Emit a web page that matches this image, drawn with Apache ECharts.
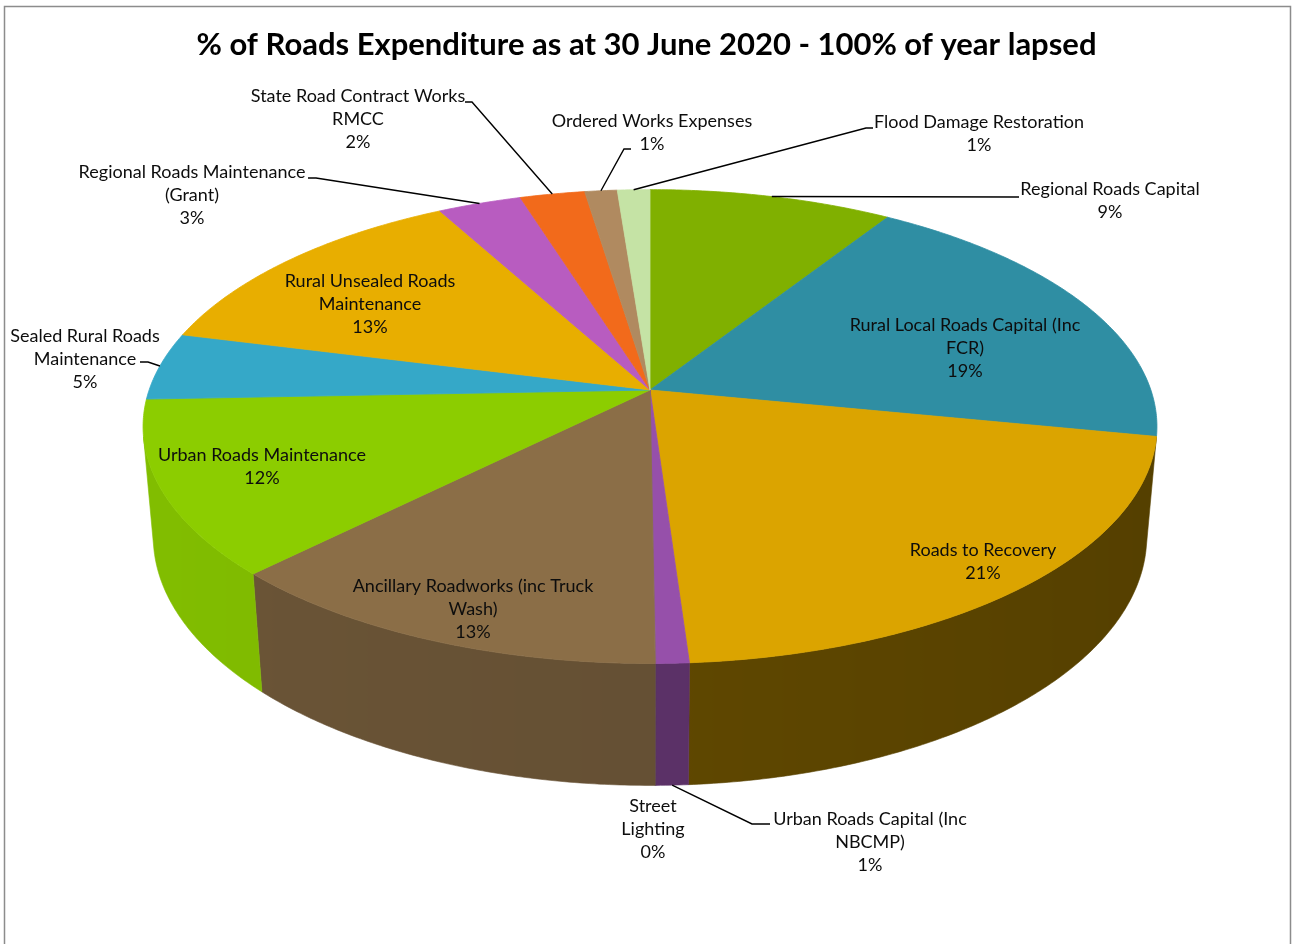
<!DOCTYPE html>
<html>
<head>
<meta charset="utf-8">
<title>% of Roads Expenditure as at 30 June 2020</title>
<script src="https://cdn.jsdelivr.net/npm/echarts@6/dist/echarts.min.js"></script>
<style>
  html, body { margin: 0; padding: 0; background: #ffffff; }
  #chart { width: 1293px; height: 944px; }
</style>
</head>
<body>
<div id="chart"></div>
<script>
// ---- data -----------------------------------------------------------------
const chartTitle = '% of Roads Expenditure as at 30 June 2020 - 100% of year lapsed';

const categories = [
  'Regional Roads Capital',
  'Rural Local Roads Capital (Inc\nFCR)',
  'Roads to Recovery',
  'Urban Roads Capital (Inc\nNBCMP)',
  'Street\nLighting',
  'Ancillary Roadworks (inc Truck\nWash)',
  'Urban Roads Maintenance',
  'Sealed Rural Roads\nMaintenance',
  'Rural Unsealed Roads\nMaintenance',
  'Regional Roads Maintenance\n(Grant)',
  'State Road Contract Works\nRMCC',
  'Ordered Works Expenses',
  'Flood Damage Restoration'
];

// share of expenditure, percent
const shares = [9.0, 19.1, 20.8, 0.9, 0.02, 12.6, 11.9, 4.6, 13.1, 3.1, 2.4, 1.2, 1.2];

const sliceColors = [
  '#80b000', '#2f8ea3', '#dba400', '#9650aa', '#8a5a96', '#8b6e47', '#8ccd00',
  '#35a8c8', '#e8ae00', '#b85cc0', '#f26a1b', '#b08a60', '#c5e3a5'
];

// ---- layout ---------------------------------------------------------------
// tilted disc seen in perspective; angles run clockwise from the far side
const VIEW = { cx: 650, cy: 390, focal: 2880, dist: 5.75, tilt: 27.5, depth: 0.25 };

// label block centres; leader = [elbow, attach] points, from = rim used by the line
const labelLayout = [
  { at: [1110, 201], leader: [[1014, 197], [1019, 197]], from: 'top' },
  { at: [965, 348] },
  { at: [983, 562] },
  { at: [870, 842], leader: [[752, 824], [770, 824]], from: 'bottom' },
  { at: [653, 829] },
  { at: [473, 609] },
  { at: [262, 467] },
  { at: [85, 359], leader: [[148, 362], [140, 362]], from: 'top' },
  { at: [370, 304] },
  { at: [192, 195], leader: [[316, 178], [308, 178]], from: 'top' },
  { at: [358, 119], leader: [[472, 102], [465, 102]], from: 'top' },
  { at: [652, 133], leader: [[624, 149], [631, 149]], from: 'top' },
  { at: [979, 134], leader: [[866, 128], [873, 128]], from: 'top' }
];

const FONT = 'Lato, "Open Sans", sans-serif';

// ---- geometry -------------------------------------------------------------
const total = shares.reduce((a, b) => a + b, 0);
const startDeg = [];
let acc = 0;
shares.forEach(v => { startDeg.push(acc / total * 360); acc += v; });

const rad = Math.PI / 180;
const cosT = Math.cos(VIEW.tilt * rad), sinT = Math.sin(VIEW.tilt * rad);

function project(phiDeg, height) {
  const X = Math.sin(phiDeg * rad), Z = Math.cos(phiDeg * rad);
  const yc = height * cosT + Z * sinT;
  const zc = VIEW.dist + Z * cosT - height * sinT;
  return [VIEW.cx + VIEW.focal * X / zc, VIEW.cy - VIEW.focal * yc / zc];
}

// the outer wall faces the viewer where cos(phi) < -1 / (dist * cos(tilt))
const wallLimit = Math.acos(-1 / (VIEW.dist * cosT)) / rad;
const wallRange = [wallLimit, 360 - wallLimit];

function arcSamples(a0, a1) {
  const n = Math.max(2, Math.ceil((a1 - a0) / 0.5) + 1);
  const out = [];
  for (let k = 0; k < n; k++) out.push(a0 + (a1 - a0) * k / (n - 1));
  return out;
}

// light comes from the left: walls turned to the right are darker
function shadeOf(phiDeg) {
  const s = 0.62 - 0.33 * Math.sin(phiDeg * rad);
  return Math.max(0.3, Math.min(1, s));
}

function scaleColor(hex, f) {
  const c = echarts.color.parse(hex);
  return 'rgb(' + [0, 1, 2].map(k => Math.round(c[k] * f)).join(',') + ')';
}

function sliceSpan(i, value) {
  const a0 = startDeg[i];
  return [a0, a0 + value / total * 360];
}

// ---- renderers ------------------------------------------------------------
function renderWall(params, api) {
  const i = params.dataIndex;
  const [a0, a1] = sliceSpan(i, api.value(0));
  const lo = Math.max(a0, wallRange[0]), hi = Math.min(a1, wallRange[1]);
  if (hi <= lo) return null;
  const angles = arcSamples(lo, hi);
  const topRim = angles.map(a => project(a, 0));
  const botRim = angles.map(a => project(a, -VIEW.depth));
  const points = topRim.concat(botRim.slice().reverse());
  const mid = (a0 + a1) / 2;
  const xs = topRim.map(p => p[0]);
  const minX = Math.min.apply(null, xs), maxX = Math.max.apply(null, xs);
  const span = Math.max(1, maxX - minX);
  // mostly flat per-slice shade with a faint left-to-right falloff
  const stops = angles.map((a, k) => ({
    offset: (xs[k] - minX) / span,
    color: scaleColor(sliceColors[i], 0.85 * shadeOf(mid) + 0.15 * shadeOf(a))
  })).sort((p, q) => p.offset - q.offset);
  const fill = new echarts.graphic.LinearGradient(minX, 0, maxX, 0, stops, true);
  return {
    type: 'polygon',
    shape: { points: points },
    style: { fill: fill, stroke: scaleColor(sliceColors[i], shadeOf(mid)), lineWidth: 0.6 }
  };
}

function renderTop(params, api) {
  const i = params.dataIndex;
  const [a0, a1] = sliceSpan(i, api.value(0));
  const points = [[VIEW.cx, VIEW.cy]].concat(arcSamples(a0, a1).map(a => project(a, 0)));
  return {
    type: 'polygon',
    shape: { points: points },
    style: { fill: sliceColors[i], stroke: sliceColors[i], lineWidth: 0.8 }
  };
}

function renderLabel(params, api) {
  const i = params.dataIndex;
  const v = api.value(0);
  const [a0, a1] = sliceSpan(i, v);
  const lay = labelLayout[i];
  const pct = Math.round(v / total * 100);
  const children = [{
    type: 'text',
    style: {
      text: categories[i] + '\n' + pct + '%',
      x: lay.at[0], y: lay.at[1],
      align: 'center', verticalAlign: 'middle',
      font: '18px ' + FONT, lineHeight: 23,
      fill: '#0d0d0d'
    }
  }];
  if (lay.leader) {
    const mid = (a0 + a1) / 2;
    const rim = project(mid, lay.from === 'bottom' ? -VIEW.depth : 0);
    children.push({
      type: 'polyline',
      shape: { points: [rim, lay.leader[0], lay.leader[1]] },
      style: { stroke: '#000000', lineWidth: 1.4, fill: null }
    });
  }
  return { type: 'group', children: children };
}

// ---- chart ----------------------------------------------------------------
const sliceData = shares.map((v, i) => ({ name: categories[i].replace(/\n/g, ' '), value: v }));

const chart = echarts.init(document.getElementById('chart'), null, { renderer: 'canvas' });
chart.setOption({
  backgroundColor: '#ffffff',
  animation: false,
  title: {
    text: chartTitle,
    left: 'center',
    top: 24,
    textStyle: { fontFamily: FONT, fontSize: 31, fontWeight: 'bold', color: '#000000' }
  },
  graphic: [{
    type: 'rect',
    shape: { x: 4.5, y: 6.5, width: 1286, height: 944 },
    style: { fill: null, stroke: '#8c8c8c', lineWidth: 1.5 },
    silent: true
  }],
  series: [
    { type: 'custom', name: 'walls', coordinateSystem: 'none', silent: true, z: 1,
      data: sliceData, renderItem: renderWall },
    { type: 'custom', name: 'tops', coordinateSystem: 'none', silent: true, z: 2,
      data: sliceData, renderItem: renderTop },
    { type: 'custom', name: 'labels', coordinateSystem: 'none', silent: true, z: 3,
      data: sliceData, renderItem: renderLabel }
  ]
});
</script>
</body>
</html>
